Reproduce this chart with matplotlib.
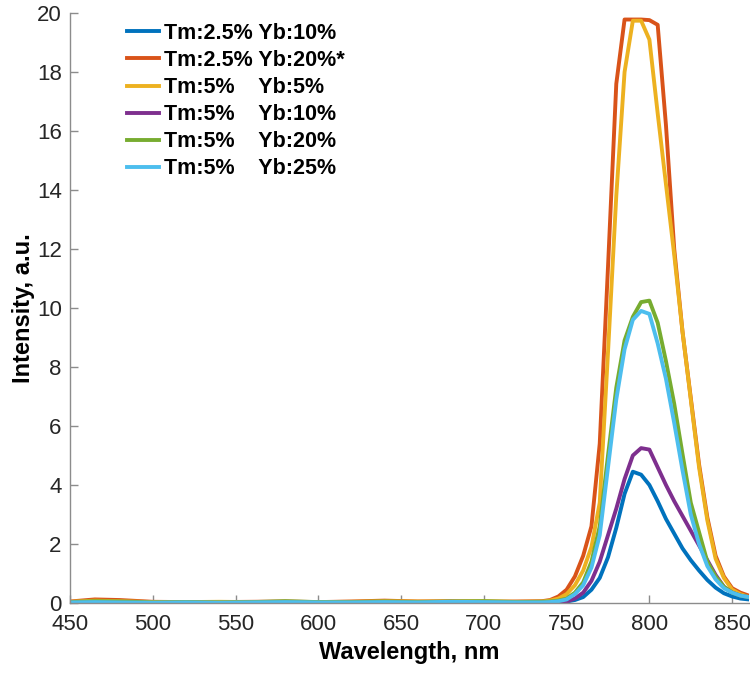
import numpy as np
import matplotlib
matplotlib.use('Agg')
import matplotlib.pyplot as plt

plt.rcParams['font.family'] = ['Liberation Sans', 'DejaVu Sans']

# wavelength grid, nm (coarse on the flat baseline, 5 nm across the band)
wavelength = [450, 465, 480, 500, 520, 540, 560, 580, 600, 620, 640, 660, 680, 700, 720, 735,
              740, 745, 750, 755, 760, 765, 770, 775, 780, 785, 790, 795, 800, 805, 810, 815,
              820, 825, 830, 835, 840, 845, 850, 855, 860]

tm25_yb10 = [0.02, 0.05, 0.03, 0.01, 0.01, 0.02, 0.01, 0.02, 0.02, 0.01, 0.03, 0.01, 0.04, 0.02, 0.01, 0.01,
             0.0, 0.02, 0.05, 0.1, 0.2, 0.45, 0.85, 1.55, 2.55, 3.7, 4.45, 4.35, 4.0, 3.45, 2.85, 2.35,
             1.85, 1.45, 1.1, 0.78, 0.52, 0.33, 0.22, 0.15, 0.12]
tm25_yb20 = [0.05, 0.12, 0.1, 0.04, 0.03, 0.03, 0.04, 0.05, 0.03, 0.05, 0.08, 0.05, 0.06, 0.04, 0.05, 0.06,
             0.1, 0.22, 0.45, 0.9, 1.6, 2.6, 5.4, 11.4, 17.6, 19.78, 19.78, 19.78, 19.76, 19.6, 16.2, 12.0,
             9.2, 6.95, 4.7, 2.9, 1.6, 0.9, 0.5, 0.35, 0.25]
tm5_yb5 = [0.04, 0.08, 0.06, 0.03, 0.03, 0.04, 0.03, 0.04, 0.03, 0.04, 0.06, 0.05, 0.05, 0.06, 0.04, 0.05,
           0.08, 0.15, 0.3, 0.6, 1.1, 1.9, 3.4, 8.5, 13.8, 18.0, 19.74, 19.74, 19.1, 16.6, 14.2, 11.8,
           9.2, 6.9, 4.6, 2.8, 1.5, 0.85, 0.45, 0.3, 0.2]
tm5_yb10 = [0.01, 0.03, 0.02, 0.0, 0.01, 0.0, 0.01, 0.02, 0.0, 0.01, 0.02, 0.0, 0.03, 0.01, 0.0, 0.0,
            0.0, 0.02, 0.05, 0.15, 0.35, 0.75, 1.4, 2.3, 3.2, 4.2, 5.0, 5.25, 5.2, 4.6, 4.0, 3.45,
            2.95, 2.45, 1.95, 1.45, 0.95, 0.55, 0.35, 0.25, 0.2]
tm5_yb20 = [0.03, 0.06, 0.05, 0.02, 0.03, 0.02, 0.03, 0.06, 0.03, 0.03, 0.05, 0.03, 0.05, 0.06, 0.03, 0.04,
            0.05, 0.08, 0.15, 0.35, 0.7, 1.4, 2.6, 5.0, 7.3, 8.9, 9.7, 10.2, 10.25, 9.5, 8.2, 6.75,
            5.05, 3.4, 2.4, 1.4, 0.9, 0.55, 0.35, 0.25, 0.2]
tm5_yb25 = [0.02, 0.03, 0.02, 0.01, 0.02, 0.01, 0.02, 0.03, 0.02, 0.02, 0.03, 0.02, 0.04, 0.03, 0.02, 0.02,
            0.03, 0.06, 0.12, 0.3, 0.6, 1.2, 2.3, 4.6, 6.9, 8.6, 9.6, 9.9, 9.8, 8.8, 7.6, 6.1,
            4.5, 3.0, 2.0, 1.25, 0.8, 0.5, 0.35, 0.25, 0.2]

labels = ['Tm:2.5% Yb:10%', 'Tm:2.5% Yb:20%*', 'Tm:5%    Yb:5%',
          'Tm:5%    Yb:10%', 'Tm:5%    Yb:20%', 'Tm:5%    Yb:25%']
series = [tm25_yb10, tm25_yb20, tm5_yb5, tm5_yb10, tm5_yb20, tm5_yb25]
colors = ['#0072BD', '#D95319', '#EDB120', '#7E2F8E', '#77AC30', '#4DBEEE']

fig = plt.figure(figsize=(7.5, 6.75), dpi=100)
ax = fig.add_axes([0.0933, 0.1067, 0.905, 0.874])

for y, lab, c in zip(series, labels, colors):
    ax.plot(wavelength, y, color=c, lw=2.8, label=lab)

ax.set_xlim(450, 860)
ax.set_ylim(0, 20)
ax.set_xticks(np.arange(450, 851, 50))
ax.set_yticks(np.arange(0, 21, 2))

for s in ['top', 'right']:
    ax.spines[s].set_visible(False)
for s in ['left', 'bottom']:
    ax.spines[s].set_color('#8c8c8c')
    ax.spines[s].set_linewidth(1.0)
ax.tick_params(direction='in', length=6, width=1.0, color='#8c8c8c',
               labelsize=16, labelcolor='#262626')
ax.tick_params(axis='x', pad=8)
ax.tick_params(axis='y', pad=6)

ax.set_xlabel('Wavelength, nm', fontsize=17, fontweight='bold', labelpad=4)
ax.set_ylabel('Intensity, a.u.', fontsize=17, fontweight='bold', labelpad=1)

leg = ax.legend(loc='upper left', bbox_to_anchor=(127 / 750, 1 - 23 / 675),
                bbox_transform=fig.transFigure, frameon=False,
                prop={'size': 15.5, 'weight': 'bold'}, handlelength=1.5,
                handletextpad=0.2, labelspacing=0.28, borderpad=0, borderaxespad=0)

fig.savefig('out.png', dpi=100)
